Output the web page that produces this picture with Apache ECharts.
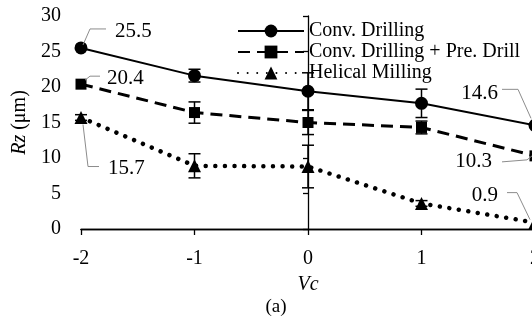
<!DOCTYPE html>
<html><head><meta charset="utf-8">
<script src="https://cdn.jsdelivr.net/npm/echarts@6/dist/echarts.min.js"></script>
<style>html,body{margin:0;padding:0;background:#fff}#c{width:532px;height:318px}</style>
</head><body><div id="c"></div>
<script>
// ---- data ----
const vc = [-2, -1, 0, 1, 2];
const xTicks = ['-2', '-1', '0', '1', '2'];
const yTicks = [0, 5, 10, 15, 20, 25, 30];
const seriesNames = ['Conv. Drilling', 'Conv. Drilling + Pre. Drill', 'Helical Milling'];
const convDrilling = [25.5, 21.6, 19.4, 17.7, 14.6];
const convDrillingErr = [0, 0.9, 2.6, 2.0, 0];
const preDrill = [20.4, 16.4, 15.0, 14.3, 10.3];
const preDrillErr = [0, 1.5, 1.7, 0.9, 0];
const helical = [15.7, 8.9, 8.8, 3.6, 0.9];
const helicalErr = [0.4, 1.7, 3.0, 0.4, 0];
const annotatedPoints = [0, 4]; // indices of labelled points

// ---- styling / layout (not data) ----
const FONT = '"Liberation Serif", "Times New Roman", serif';
const leaderLayout = {
  '0-0': {pts: [[2, -3], [9, -19], [25, -19]], text: [34, -16], align: 'left'},
  '0-4': {pts: [[-33, -36], [-17, -36], [-4, -7]], text: [-37, -32], align: 'right'},
  '1-0': {pts: [[4, -4], [9, -8], [19, -8]], text: [26, -6], align: 'left'},
  '1-4': {pts: [[-33, 6], [-8, 4], [-3, 0]], text: [-43, 6], align: 'right'},
  '2-0': {pts: [[2, 7], [7, 49], [18, 49]], text: [27, 51], align: 'left'},
  '2-4': {pts: [[-28, -30], [-18, -30], [-5, -3]], text: [-37, -27], align: 'right'}
};

const values = [convDrilling, preDrill, helical];
const errs = [convDrillingErr, preDrillErr, helicalErr];

const chart = echarts.init(document.getElementById('c'), null, {renderer: 'canvas'});

function errData(v, e) {
  const out = [];
  vc.forEach((x, i) => { if (e[i] > 0) out.push([x, v[i] - e[i], v[i] + e[i]]); });
  return out;
}
function renderErr(params, api) {
  const x = api.value(0), lo = api.value(1), hi = api.value(2);
  const p1 = api.coord([x, hi]), p2 = api.coord([x, lo]);
  const w = 6;
  const style = {stroke: '#000', lineWidth: 1.5};
  return {type: 'group', children: [
    {type: 'line', shape: {x1: p1[0], y1: p1[1], x2: p2[0], y2: p2[1]}, style},
    {type: 'line', shape: {x1: p1[0] - w, y1: p1[1], x2: p1[0] + w, y2: p1[1]}, style},
    {type: 'line', shape: {x1: p2[0] - w, y1: p2[1], x2: p2[0] + w, y2: p2[1]}, style}
  ]};
}
const annData = [];
values.forEach((v, s) => annotatedPoints.forEach(i => annData.push([vc[i], v[i], s, i])));
function renderAnn(params, api) {
  const x = api.value(0), y = api.value(1), s = api.value(2), i = api.value(3);
  const p = api.coord([x, y]);
  const L = leaderLayout[s + '-' + i];
  return {type: 'group', children: [
    {type: 'polyline', shape: {points: L.pts.map(q => [p[0] + q[0], p[1] + q[1]])},
     style: {stroke: '#8c8c8c', lineWidth: 1, fill: null}},
    {type: 'text', x: p[0] + L.text[0], y: p[1] + L.text[1],
     style: {text: y.toFixed(1), fill: '#000', fontFamily: FONT, fontSize: 21, align: L.align, verticalAlign: 'middle'}}
  ]};
}

const lineStyles = [
  {color: '#000', width: 2, type: 'solid'},
  {color: '#000', width: 3, type: [12, 7]},
  {color: '#000', width: 4.5, type: [0.01, 9.6], cap: 'round'}
];
const symbols = [['circle', 13], ['rect', 11], ['triangle', 13]];

const series = [];
values.forEach((v, s) => {
  series.push({
    name: seriesNames[s], type: 'line',
    data: vc.map((x, i) => [x, v[i]]),
    symbol: symbols[s][0], symbolSize: symbols[s][1],
    itemStyle: {color: '#000'},
    lineStyle: lineStyles[s],
    z: 3
  });
});
errs.forEach((e, s) => {
  series.push({type: 'custom', renderItem: renderErr, data: errData(values[s], e), z: 4, silent: true});
});
series.push({type: 'custom', renderItem: renderAnn, data: annData, z: 5, silent: true, clip: false});

chart.setOption({
  animation: false,
  backgroundColor: '#fff',
  textStyle: {fontFamily: FONT, color: '#000'},
  grid: {left: 81, top: 16, width: 454, height: 213, containLabel: false, outerBoundsMode: 'none'},
  legend: {
    data: seriesNames, orient: 'vertical', left: 237, top: 21, itemGap: 1, padding: 0,
    itemWidth: 66, itemHeight: 16,
    textStyle: {fontFamily: FONT, fontSize: 20, color: '#000'}
  },
  xAxis: [{
    type: 'value', min: -2, max: 2, interval: 1,
    name: 'Vc', nameLocation: 'middle', nameGap: 46,
    nameTextStyle: {fontFamily: FONT, fontSize: 20, fontStyle: 'italic', color: '#000'},
    axisLine: {show: true, onZero: false, lineStyle: {color: '#000', width: 1.3}},
    axisTick: {show: true, length: 6, lineStyle: {color: '#000', width: 1.3}},
    axisLabel: {margin: 20, fontFamily: FONT, fontSize: 20, color: '#000',
      formatter: v => xTicks[vc.indexOf(v)]},
    splitLine: {show: false}
  }, {
    type: 'value', min: -2, max: 2, position: 'top',
    axisLine: {show: true, lineStyle: {color: '#000', width: 1.3}},
    axisTick: {show: false}, axisLabel: {show: false}, splitLine: {show: false}
  }],
  yAxis: {
    type: 'value', min: yTicks[0], max: yTicks[yTicks.length - 1], interval: 5,
    name: '{i|Rz} (μm)', nameLocation: 'middle', nameGap: 48,
    nameTextStyle: {fontFamily: FONT, fontSize: 20, color: '#000',
      rich: {i: {fontFamily: FONT, fontSize: 20, fontStyle: 'italic', color: '#000'}}},
    axisLine: {show: true, lineStyle: {color: '#000', width: 1.3}},
    axisTick: {show: true, length: 5, lineStyle: {color: '#000', width: 1.3}},
    axisLabel: {margin: 20, fontFamily: FONT, fontSize: 20, color: '#000'},
    splitLine: {show: false}
  },
  graphic: [{type: 'text', x: 276, y: 307,
    style: {text: '(a)', fontFamily: FONT, fontSize: 19, fill: '#000', align: 'center', verticalAlign: 'middle'}}],
  series
});
</script></body></html>
